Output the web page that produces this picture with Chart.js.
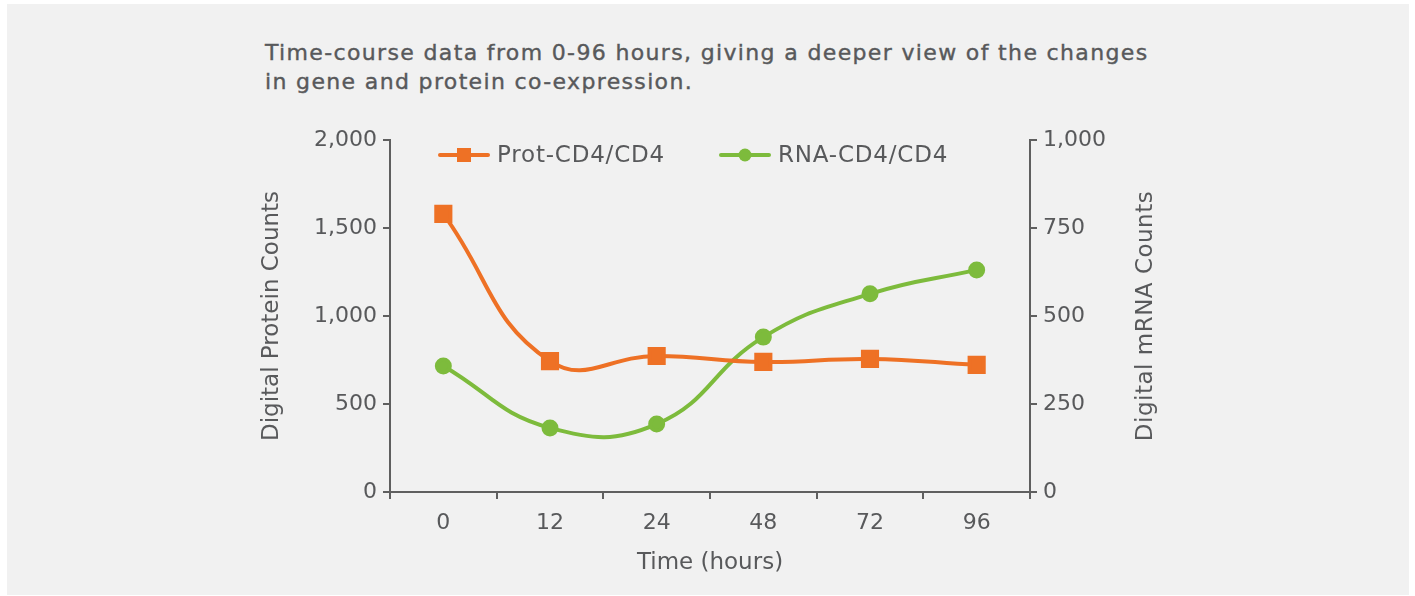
<!DOCTYPE html>
<html>
<head>
<meta charset="utf-8">
<script src="https://cdn.jsdelivr.net/npm/chart.js@4.4.0/dist/chart.umd.min.js"></script>
<style>
  html, body { margin: 0; padding: 0; background: #fff; }
  #wrap { position: relative; width: 1415px; height: 596px; }
  #box { position: absolute; left: 7px; top: 4px; width: 1402px; height: 591px; background: #f1f1f1; }
  #title { position: absolute; left: 265px; top: 38px; font: 22px "DejaVu Sans", sans-serif; letter-spacing: 1.35px; line-height: 29px; color: #58595b; -webkit-text-stroke: 0.4px #58595b; }
  canvas { position: absolute; left: 0; top: 0; }
</style>
</head>
<body>
<div id="wrap">
  <div id="box"></div>
  <div id="title">Time-course data from 0-96 hours, giving a deeper view of the changes<br>in gene and protein co-expression.</div>
  <canvas id="chart" width="1415" height="596"></canvas>
</div>
<script>
const hours = ['0', '12', '24', '48', '72', '96'];
const protCounts = [1580, 744, 773, 739, 756, 722];
const rnaCounts = [358, 182, 193, 440, 563, 631];
const protTicks = [0, 500, 1000, 1500, 2000];
const rnaTicks = [0, 250, 500, 750, 1000];

const textColor = '#58595b';
const axisColor = '#5f5f5f';
const orange = '#ee7125';
const green = '#7dbb3c';
const fontFamily = '"DejaVu Sans", sans-serif';

// legend with line + marker inside the chart area, and the right axis title read bottom-to-top
const extras = {
  id: 'extras',
  afterDraw(chart) {
    const ctx = chart.ctx;
    const area = chart.chartArea;
    const y = area.top + 15;
    const starts = [440, 721];
    ctx.save();
    chart.data.datasets.forEach((ds, i) => {
      const x = starts[i];
      ctx.strokeStyle = ds.borderColor;
      ctx.lineWidth = ds.borderWidth;
      ctx.lineCap = 'round';
      ctx.beginPath();
      ctx.moveTo(x, y);
      ctx.lineTo(x + 48, y);
      ctx.stroke();
      ctx.fillStyle = ds.backgroundColor;
      if (ds.pointStyle === 'rect') {
        ctx.fillRect(x + 24 - 7, y - 7, 14, 14);
      } else {
        ctx.beginPath();
        ctx.arc(x + 24, y, 6.5, 0, Math.PI * 2);
        ctx.fill();
      }
      ctx.fillStyle = textColor;
      ctx.font = '23px ' + fontFamily;
      ctx.letterSpacing = '0.8px';
      ctx.textBaseline = 'middle';
      ctx.fillText(ds.label, x + 57, y + 1);
    });

    const right = chart.scales.y1;
    ctx.translate(right.right - 13, (area.top + area.bottom) / 2);
    ctx.rotate(-Math.PI / 2);
    ctx.textAlign = 'center';
    ctx.textBaseline = 'middle';
    ctx.fillStyle = textColor;
    ctx.font = '23px ' + fontFamily;
    ctx.letterSpacing = '0.5px';
    ctx.fillText('Digital mRNA Counts', 0, 0);
    ctx.restore();
  }
};

const tickFont = { family: fontFamily, size: 22 };
const titleFont = { family: fontFamily, size: 23 };

const ctx = document.getElementById('chart').getContext('2d');
new Chart(ctx, {
  type: 'line',
  data: {
    labels: hours,
    datasets: [{
      label: 'Prot-CD4/CD4',
      data: protCounts,
      yAxisID: 'y',
      borderColor: orange,
      backgroundColor: orange,
      borderWidth: 4,
      pointStyle: 'rect',
      pointRadius: 10,
      pointHoverRadius: 10,
      tension: 0.45
    }, {
      label: 'RNA-CD4/CD4',
      data: rnaCounts,
      yAxisID: 'y1',
      borderColor: green,
      backgroundColor: green,
      borderWidth: 4,
      pointStyle: 'circle',
      pointRadius: 6.5,
      pointHoverRadius: 6.5,
      tension: 0.45
    }]
  },
  options: {
    responsive: false,
    animation: false,
    layout: { padding: { left: 258, right: 256, top: 140, bottom: 19 } },
    plugins: {
      legend: { display: false },
      tooltip: { enabled: false }
    },
    scales: {
      x: {
        offset: true,
        grid: { display: true, offset: true, drawOnChartArea: false, tickLength: 7, color: axisColor, lineWidth: 2 },
        border: { color: axisColor, width: 2 },
        ticks: { color: textColor, font: tickFont, padding: 11 },
        title: { display: true, text: 'Time (hours)', color: textColor, font: titleFont, padding: 0 },
        afterFit(scale) { scale.height = 85; }
      },
      y: {
        position: 'left',
        min: 0,
        max: 2000,
        afterBuildTicks(scale) { scale.ticks = protTicks.map(v => ({ value: v })); },
        grid: { display: true, drawOnChartArea: false, tickLength: 7, color: axisColor, lineWidth: 2 },
        border: { color: axisColor, width: 2 },
        ticks: { color: textColor, font: tickFont, padding: 6 },
        title: { display: true, text: 'Digital Protein Counts', color: textColor, font: titleFont, padding: 0 },
        afterFit(scale) { scale.width = 132; }
      },
      y1: {
        position: 'right',
        min: 0,
        max: 1000,
        afterBuildTicks(scale) { scale.ticks = rnaTicks.map(v => ({ value: v })); },
        grid: { display: true, drawOnChartArea: false, tickLength: 7, color: axisColor, lineWidth: 2 },
        border: { color: axisColor, width: 2 },
        ticks: { color: textColor, font: tickFont, padding: 6 },
        title: { display: false },
        afterFit(scale) { scale.width = 129; }
      }
    }
  },
  plugins: [extras]
});
</script>
</body>
</html>
